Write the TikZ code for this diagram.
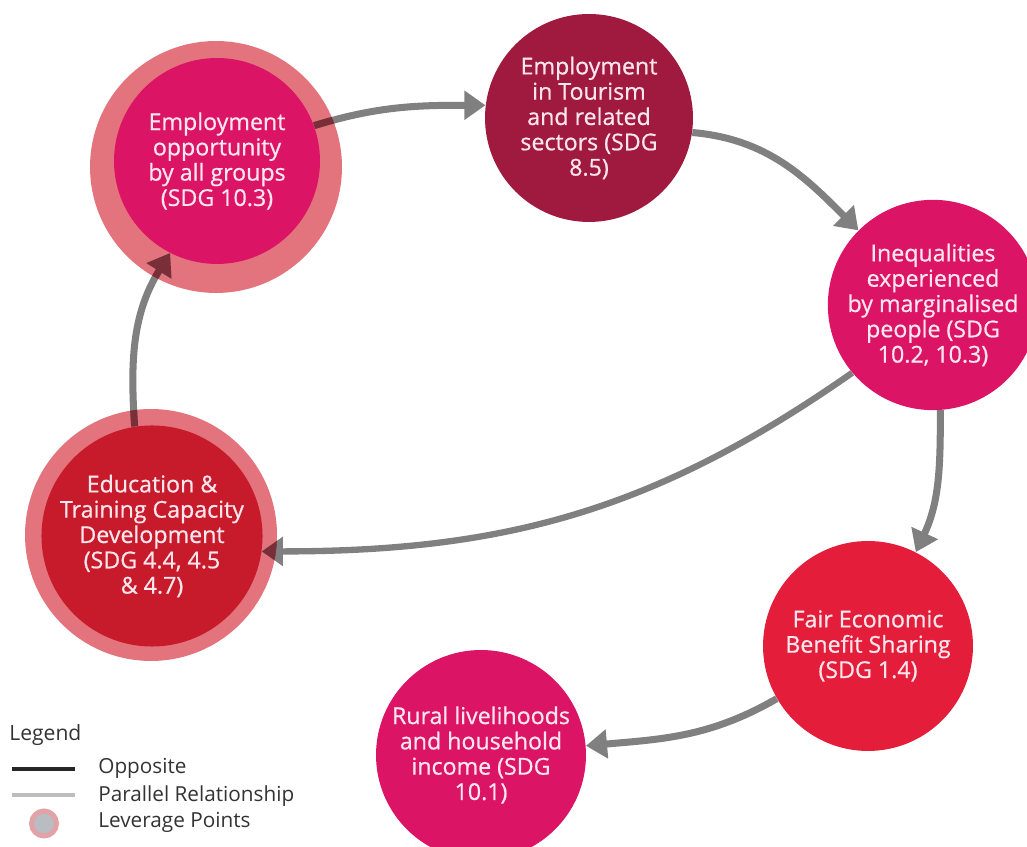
\documentclass[tikz,border=0pt]{standalone}
\usepackage{fontspec}
\setmainfont{Open Sans}
\newfontfamily\sdgfont{Open Sans}[FakeBold=0.7]
\usetikzlibrary{arrows.meta}

\definecolor{magentaA}{HTML}{DC1466}
\definecolor{ringpink}{HTML}{E3737C}
\definecolor{wine}{HTML}{A0193F}
\definecolor{crimson}{HTML}{C71B2B}
\definecolor{redB}{HTML}{E41E3A}
\definecolor{linkgray}{HTML}{808080}
\definecolor{linkdark}{HTML}{7A2E38}
\definecolor{labelpink}{HTML}{FCE6EE}
\definecolor{legendtext}{HTML}{333333}
\definecolor{legendring}{HTML}{E2A3A8}
\definecolor{legendcore}{HTML}{B9BCC0}
\definecolor{parallelgray}{HTML}{BDBDBD}

\pgfdeclarelayer{rings}
\pgfdeclarelayer{links}
\pgfsetlayers{rings,links,main}

\begin{document}
\begin{tikzpicture}[x=0.02cm, y=0.02cm,
  sdg/.style={circle, inner sep=0pt, align=center, text=labelpink,
    font=\sdgfont\fontsize{13.2}{14.4}\selectfont},
  ring/.style={circle, fill=ringpink, inner sep=0pt, minimum size=5.04cm},
  link/.style={line width=4pt, draw=linkgray, -{Triangle[length=12pt,width=16pt]}},
  legendlabel/.style={anchor=base west, inner sep=0pt, text=legendtext,
    font=\fontsize{11.8}{13}\selectfont},
]
\useasboundingbox (0,0) rectangle (1027,847);

% factor circles
\node[sdg, fill=magentaA, minimum size=4.12cm] (c1) at (217,686)
  {Employment\\opportunity\\by all groups\\(SDG 10.3)};
\node[sdg, fill=wine, minimum size=4.16cm] (c2) at (589,729)
  {Employment\\in Tourism\\and related\\sectors (SDG\\8.5)};
\node[sdg, fill=magentaA, minimum size=4.2cm] (c3) at (933,542)
  {Inequalities\\experienced\\by marginalised\\people (SDG\\10.2, 10.3)};
\node[sdg, fill=crimson, minimum size=4.08cm] (c4) at (152,311)
  {Education \&\\Training Capacity\\Development\\(SDG 4.4, 4.5\\\& 4.7)};
\node[sdg, fill=redB, minimum size=4.2cm] (c5) at (868,201)
  {Fair Economic\\Benefit Sharing\\(SDG 1.4)};
\node[sdg, fill=magentaA, minimum size=4.2cm] (c6) at (481,92)
  {Rural livelihoods\\and household\\income (SDG\\10.1)};

% leverage rings
\begin{pgfonlayer}{rings}
  \node[ring] (r1) at (216,680) {};
  \node[ring] (r4) at (151,312) {};
\end{pgfonlayer}

% relationships
\begin{pgfonlayer}{links}
  \draw[link] (c1.20) to[out=17,in=180] (c2.173);
  \draw[link] (c2.-8) to[out=-5,in=135] (c3.135);
  \draw[link, line width=3.6pt] (c3.220) to[out=215,in=0] (c4.-8);
  \draw[link] (c3.-86) to[out=-90,in=65] (c5.63);
  \draw[link] (c5.210) to[out=210,in=5] (c6.5);
  \draw[link] (c4.99) to[out=94,in=238] (c1.243);
  % darker where the links cross the leverage rings
  \begin{scope}
    \clip (r1.center) circle[radius=126] (r4.center) circle[radius=126];
    \draw[link, draw=linkdark] (c1.20) to[out=17,in=180] (c2.173);
    \draw[link, draw=linkdark, line width=3.6pt] (c3.220) to[out=215,in=0] (c4.-8);
    \draw[link, draw=linkdark] (c4.99) to[out=94,in=238] (c1.243);
  \end{scope}
\end{pgfonlayer}

% legend
\node[anchor=base west, inner sep=0pt, text=legendtext,
  font=\fontsize{12}{14}\selectfont] (lg) at (9,106) {Legend};
\coordinate (oppA) at (12,78);
\coordinate (oppB) at (75,78);
\draw[line width=1.8pt, black!85] (oppA) -- (oppB);
\node[legendlabel] (oppT) at (98,73) {Opposite};
\coordinate (parA) at (12,52);
\coordinate (parB) at (75,52);
\draw[line width=1.8pt, parallelgray] (parA) -- (parB);
\node[legendlabel] (parT) at (98,45) {Parallel Relationship};
\node[circle, inner sep=0pt, minimum size=0.5cm, fill=legendcore,
  draw=legendring, line width=2.85pt] (levC) at (44,23.5) {};
\node[legendlabel] (levT) at (98,19) {Leverage Points};
\end{tikzpicture}
\end{document}
